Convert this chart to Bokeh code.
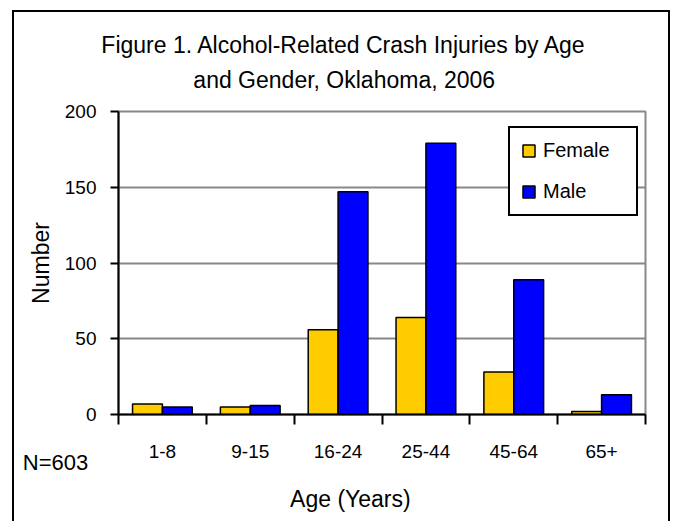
from bokeh.plotting import figure
from bokeh.models import (ColumnDataSource, Range1d, FixedTicker, Legend, LegendItem,
                          Label)
from bokeh.transform import dodge
from bokeh.embed import file_html
from bokeh.resources import INLINE

categories = ["1-8", "9-15", "16-24", "25-44", "45-64", "65+"]
female = [7, 5, 56, 64, 28, 2]
male = [5, 6, 147, 179, 89, 13]
y_ticks = [0, 50, 100, 150, 200]
title_lines = ["Figure 1. Alcohol-Related Crash Injuries by Age",
               "and Gender, Oklahoma, 2006"]
note_text = "N=603"

FONT = "Liberation Sans"

xpos = [i + 0.5 for i in range(len(categories))]
src = ColumnDataSource(dict(x=xpos, female=female, male=male, cat=categories))

p = figure(width=658, height=511, output_backend="svg", toolbar_location=None,
           x_range=Range1d(0, len(categories)), y_range=Range1d(0, 200),
           min_border_left=104, min_border_right=27, min_border_top=99,
           min_border_bottom=109)
p.styles = {"margin-left": "12px", "margin-top": "10px",
            "border-left": "2px solid black", "border-top": "2px solid black",
            "border-right": "2px solid black"}

p.outline_line_color = "#888888"
p.outline_line_width = 2
p.background_fill_color = "white"
p.border_fill_color = "white"

rf = p.vbar(x=dodge("x", -0.17, range=p.x_range), top="female", width=0.34, source=src,
            fill_color="#FFCC00", line_color="black", line_width=1.5)
rm = p.vbar(x=dodge("x", 0.17, range=p.x_range), top="male", width=0.34, source=src,
            fill_color="#0000FF", line_color="black", line_width=1.5)

# x axis
p.xaxis.ticker = FixedTicker(ticks=xpos, minor_ticks=list(range(len(categories) + 1)))
p.xaxis.major_label_overrides = {x: c for x, c in zip(xpos, categories)}
p.xaxis.major_tick_out = 0
p.xaxis.major_tick_in = 0
p.xaxis.minor_tick_out = 10
p.xaxis.minor_tick_in = 0
p.xaxis.minor_tick_line_color = "black"
p.xaxis.minor_tick_line_width = 2
p.xaxis.axis_line_width = 2
p.xaxis.axis_line_color = "black"
p.xaxis.major_label_standoff = 20
p.xaxis.major_label_text_font = FONT
p.xaxis.major_label_text_font_size = "19px"
p.xaxis.major_label_text_color = "black"

# y axis
p.yaxis.ticker = FixedTicker(ticks=y_ticks)
p.yaxis.minor_tick_line_color = None
p.yaxis.major_tick_out = 8
p.yaxis.major_tick_in = 0
p.yaxis.major_tick_line_width = 2
p.yaxis.major_tick_line_color = "black"
p.yaxis.axis_line_width = 2
p.yaxis.axis_line_color = "black"
p.yaxis.major_label_standoff = 14
p.yaxis.major_label_text_font = FONT
p.yaxis.major_label_text_font_size = "19px"
p.yaxis.major_label_text_color = "black"
p.yaxis.axis_label = "Number"
p.yaxis.axis_label_text_font = FONT
p.yaxis.axis_label_text_font_size = "23px"
p.yaxis.axis_label_text_font_style = "normal"
p.yaxis.axis_label_text_color = "black"
p.yaxis.axis_label_standoff = 8

p.xgrid.grid_line_color = None
p.ygrid.ticker = FixedTicker(ticks=y_ticks[1:])
p.ygrid.grid_line_color = "#888888"
p.ygrid.grid_line_width = 2

# text labels (positions in data units of the axes), placed in side panels
# so that they are not clipped to the plot frame
def txt(x, y, text, size, align="center"):
    return Label(x=x, y=y, text=text, text_align=align,
                 text_baseline="alphabetic", text_font=FONT,
                 text_font_size=size, text_color="black")

p.add_layout(txt(2.57, 243.6, title_lines[0], "23px"), "above")
p.add_layout(txt(2.57, 220.6, title_lines[1], "23px"), "above")
p.add_layout(txt(-1.09, -31.5, note_text, "22px", "left"), "above")
p.add_layout(txt(2.64, -55.5, "Age (Years)", "23px"), "below")

legend = Legend(items=[LegendItem(label="Female", renderers=[rf]),
                       LegendItem(label="Male", renderers=[rm])],
                location=(390, 198), margin=0, padding=11,
                glyph_width=15, glyph_height=15, label_height=15, label_width=82,
                spacing=18, label_standoff=7,
                label_text_font=FONT, label_text_font_size="20px",
                label_text_color="black",
                border_line_color="black", border_line_width=2, border_line_alpha=1,
                background_fill_color="white", background_fill_alpha=1)
p.add_layout(legend)

open("out.html", "w").write(file_html(p, INLINE))
